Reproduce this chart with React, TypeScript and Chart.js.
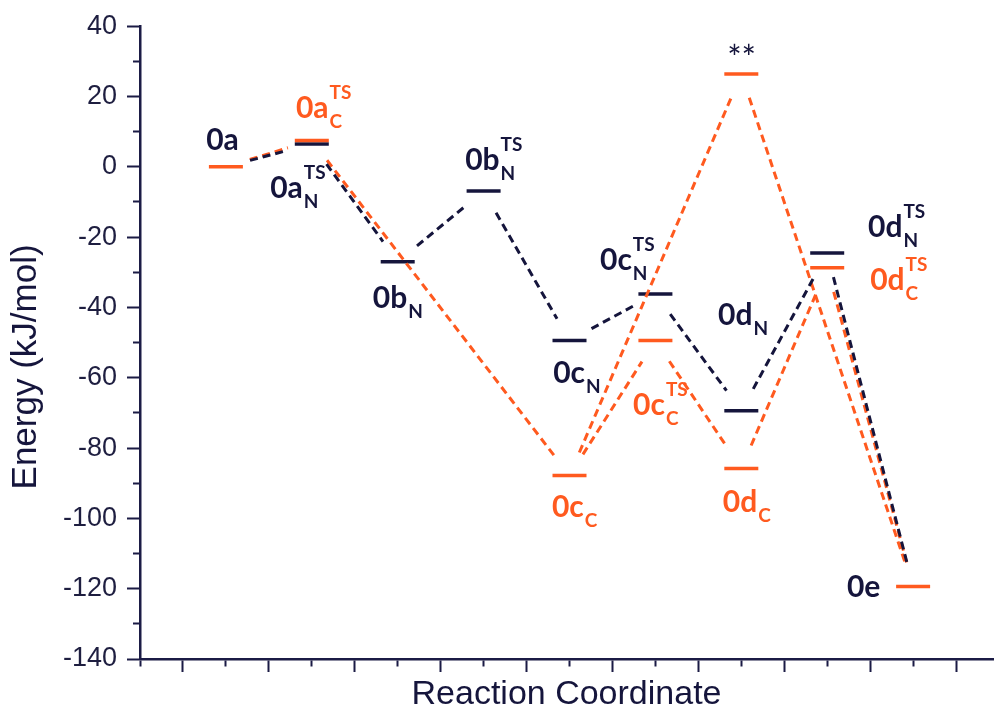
import React, { useEffect, useRef } from 'react';
import { Chart, registerables } from 'chart.js';

Chart.register(...registerables);

const NAVY = '#15153c';
const ORANGE = '#ff5a1f';
const AXIS = '#1b1b45';

// x ticks (reaction coordinate, unlabeled) and y ticks (energy)
const xTickValues = [0, 1, 2, 3, 4, 5, 6, 7, 8, 9, 10, 11, 12, 13, 14, 15, 16, 17, 18, 19];
const yTickValues = [-140, -130, -120, -110, -100, -90, -80, -70, -60, -50, -40, -30, -20, -10, 0, 10, 20, 30, 40];

// Pathway N (navy): 0a -> 0aN^TS -> 0bN -> 0bN^TS -> 0cN -> 0cN^TS -> 0dN -> 0dN^TS -> 0e
const pathNx = [2, 4, 6, 8, 10, 12, 14, 16, 18];
const pathNE = [0, 6.5, -27.0, -6.9, -49.4, -36.2, -69.4, -24.5, -119.4];

// Pathway C (orange): 0a -> 0aC^TS -> 0cC -> 0cC^TS -> 0dC -> 0dC^TS -> 0e
const pathCx = [2, 4, 10, 12, 14, 16, 18];
const pathCE = [0, 7.5, -87.8, -49.4, -85.8, -28.7, -119.4];

// Alternative pathway (orange): 0cC -> ** -> 0e
const pathSx = [10, 14, 18];
const pathSE = [-87.8, 26.4, -119.4];

// Text labels: main text, superscript, subscript, colour, anchor (data units, left/baseline)
const labelText = ['0a', '0a', '0a', '0b', '0b', '0c', '0c', '0c', '0c', '0d', '0d', '0d', '0d', '**', '0e'];
const labelSup = ['', 'TS', 'TS', 'TS', '', 'TS', '', 'TS', '', '', '', 'TS', 'TS', '', ''];
const labelSub = ['', 'C', 'N', 'N', 'N', 'N', 'N', 'C', 'C', 'N', 'C', 'N', 'C', '', ''];
const labelSeries = ['N', 'C', 'N', 'N', 'N', 'N', 'N', 'C', 'C', 'N', 'C', 'N', 'C', 'N', 'N'];
const labelX = [1.54, 3.63, 3.03, 7.57, 5.42, 10.71, 9.62, 11.48, 9.59, 13.46, 13.57, 16.95, 17.0, 13.67, 16.46];
const labelY = [4.75, 13.85, -8.9, -0.94, -40.2, -29.4, -61.5, -70.6, -99.6, -45.0, -98.2, -20.0, -35.1, 27.5, -122.3];

const trimPlugin = {
  id: 'trimConnectors',
  afterDatasetsUpdate(chart: any) {
    chart.data.datasets.forEach((ds: any, i: number) => {
      if (!ds.trim) return;
      const meta = chart.getDatasetMeta(i);
      const a = meta.data[0];
      const b = meta.data[1];
      if (!a || !b) return;
      const dx = b.x - a.x;
      const dy = b.y - a.y;
      const len = Math.hypot(dx, dy);
      if (len <= 2 * ds.trim) return;
      const t = ds.trim / len;
      a.x += dx * t;
      a.y += dy * t;
      b.x -= dx * t;
      b.y -= dy * t;
    });
  },
};

const labelPlugin = {
  id: 'levelLabels',
  afterDatasetsDraw(chart: any) {
    const { ctx, scales } = chart;
    const xs = scales.x;
    const ys = scales.y;
    ctx.save();
    ctx.textAlign = 'left';
    ctx.textBaseline = 'alphabetic';
    labelText.forEach((t, i) => {
      const px = xs.getPixelForValue(labelX[i]);
      const py = ys.getPixelForValue(labelY[i]);
      ctx.fillStyle = labelSeries[i] === 'C' ? ORANGE : NAVY;
      ctx.font = t === '**' ? '34px Lato' : 'bold 30px Lato';
      ctx.fillText(t, px, py);
      const w = ctx.measureText(t).width;
      ctx.font = 'bold 19px Lato';
      if (labelSup[i]) ctx.fillText(labelSup[i], px + w + 1, py - 19);
      ctx.font = 'bold 19px Lato';
      if (labelSub[i]) ctx.fillText(labelSub[i], px + w + 1, py + 10);
    });
    ctx.restore();
  },
};

export default function App() {
  const ref = useRef<HTMLCanvasElement>(null);

  useEffect(() => {
    if (!ref.current) return;

    const connectors = (xs: number[], es: number[], color: string, order: number) =>
      xs.slice(0, -1).map((x, i) => ({
        data: [
          { x, y: es[i] },
          { x: xs[i + 1], y: es[i + 1] },
        ],
        showLine: true,
        borderColor: color,
        backgroundColor: color,
        borderWidth: 3,
        borderDash: [8, 5],
        borderCapStyle: 'butt',
        pointRadius: 0,
        pointHoverRadius: 0,
        fill: false,
        order,
        trim: 25,
      }));

    const levelsN = pathNx.slice(1, -1).map((x, i) => ({ x, y: pathNE[i + 1] }));
    const levelsC = [
      ...pathCx.map((x, i) => ({ x, y: pathCE[i] })),
      { x: pathSx[1], y: pathSE[1] },
    ];

    const levelDs = (data: any[], color: string, order: number) => ({
      data,
      showLine: false,
      pointStyle: 'line',
      pointRadius: 17,
      pointHoverRadius: 17,
      pointBorderWidth: 3.5,
      pointHoverBorderWidth: 3.5,
      pointBorderColor: color,
      pointBackgroundColor: color,
      borderColor: color,
      order,
    });

    const chart = new Chart(ref.current, {
      type: 'scatter',
      data: {
        datasets: [
          levelDs(levelsN, NAVY, 5),
          levelDs(levelsC, ORANGE, 4),
          ...connectors(pathCx, pathCE, ORANGE, 3),
          ...connectors(pathSx, pathSE, ORANGE, 3),
          ...connectors(pathNx, pathNE, NAVY, 2),
        ] as any,
      },
      options: {
        animation: false,
        responsive: false,
        events: [],
        layout: { autoPadding: false, padding: { top: 26, right: 2, bottom: 0, left: 0 } },
        plugins: {
          legend: { display: false },
          tooltip: { enabled: false },
          title: { display: false },
        },
        scales: {
          x: {
            type: 'linear',
            min: 0,
            max: 19.86,
            afterBuildTicks: (scale: any) => {
              scale.ticks = xTickValues.map((v) => ({ value: v }));
            },
            afterFit: (scale: any) => {
              scale.height = 64;
              scale.paddingLeft = 0;
              scale.paddingRight = 0;
            },
            border: { display: true, color: AXIS, width: 2.5 },
            grid: {
              drawOnChartArea: false,
              drawTicks: true,
              tickLength: 13,
              tickWidth: 2,
              tickColor: AXIS,
              tickBorderDash: (ctx: any) => (ctx.tick && ctx.tick.value % 2 === 0 ? [6, 40] : []),
            },
            ticks: {
              autoSkip: false,
              maxRotation: 0,
              callback: () => '',
              font: { size: 1 },
              padding: 0,
            },
            title: {
              display: true,
              text: 'Reaction Coordinate',
              color: NAVY,
              font: { family: "'Liberation Sans', Arial, sans-serif", size: 34 },
              padding: { top: 0, bottom: 8 },
            },
          },
          y: {
            type: 'linear',
            min: -140,
            max: 40,
            afterBuildTicks: (scale: any) => {
              scale.ticks = yTickValues.map((v) => ({ value: v }));
            },
            afterFit: (scale: any) => {
              scale.width = 140;
              scale.paddingLeft = 0;
              scale.paddingRight = 0;
            },
            border: { display: true, color: AXIS, width: 2.5 },
            grid: {
              drawOnChartArea: false,
              drawTicks: true,
              tickLength: 13,
              tickWidth: 2,
              tickColor: AXIS,
              tickBorderDash: (ctx: any) =>
                ctx.tick && Math.abs(ctx.tick.value) % 20 !== 0 ? [0, 6, 40, 0] : [],
            },
            ticks: {
              autoSkip: false,
              color: '#1e1e40',
              font: { family: "'Liberation Sans', Arial, sans-serif", size: 27 },
              padding: 10,
              callback: (v: any) => (Math.abs(Number(v)) % 20 === 0 ? String(v) : ''),
            },
            title: {
              display: true,
              text: 'Energy (kJ/mol)     ',
              color: NAVY,
              font: { family: "'Liberation Sans', Arial, sans-serif", size: 35 },
              padding: { top: 5, bottom: 0 },
            },
          },
        },
      },
      plugins: [trimPlugin, labelPlugin],
    });

    return () => chart.destroy();
  }, []);

  return (
    <div style={{ position: 'absolute', left: 0, top: 0, width: 995, height: 723, background: '#fff' }}>
      <canvas ref={ref} width={995} height={723} style={{ display: 'block', width: 995, height: 723 }} />
    </div>
  );
}
